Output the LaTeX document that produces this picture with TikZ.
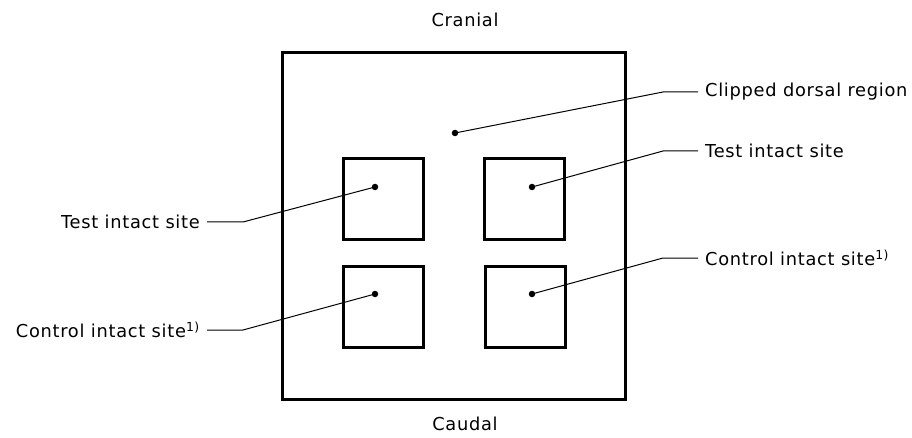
\documentclass[tikz,border=0pt]{standalone}
\usepackage{fontspec}
\setmainfont[LetterSpace=4]{DejaVu Sans}
\begin{document}
\begin{tikzpicture}[x=1pt,y=-1pt,
  frame/.style={draw=black, line width=3pt, inner sep=0pt, fill=none},
  site/.style={frame, minimum width=80pt, minimum height=81pt},
  lbl/.style={font=\fontsize{17.8}{21}\selectfont, inner sep=7pt, text=black},
  leader/.style={line width=1pt},
  dotn/.style={circle, fill=black, inner sep=0pt, minimum size=6.5pt}]
\useasboundingbox (0,0) rectangle (912,438);
\node[frame, minimum width=343pt, minimum height=346pt] (outer) at (453.5,226) {};
\node[site] (tl) at (383,199.5) {};
\node[site] (tr) at (524.5,199.5) {};
\node[site] (bl) at (383,306.5) {};
\node[site] (br) at (525,306.5) {};
\node[dotn] (dc) at (455,133) {};
\node[dotn] (dtl) at (375,187) {};
\node[dotn] (dtr) at (532,187) {};
\node[dotn] (dbl) at (375,294) {};
\node[dotn] (dbr) at (532,294) {};
\node[lbl] (cran) at (465,20) {Cranial};
\node[lbl] (caud) at (465,424) {Caudal};
\node[lbl, anchor=west] (lclip) at (698,92) {Clipped dorsal region};
\node[lbl, anchor=west] (ltr) at (698,151) {Test intact site};
\node[lbl, anchor=west] (lbr) at (698,258) {Control intact site\textsuperscript{1)}};
\node[lbl, anchor=east] (ltl) at (207,222) {Test intact site};
\node[lbl, anchor=east] (lbl) at (207,330) {Control intact site\textsuperscript{1)}};
\coordinate (bclip) at (663,92);
\coordinate (btr) at (663,151);
\coordinate (bbr) at (663,258);
\coordinate (btl) at (243,222);
\coordinate (bbl) at (243,330);
\draw[leader] (dc.center) -- (bclip) -- (lclip.west);
\draw[leader] (dtr.center) -- (btr) -- (ltr.west);
\draw[leader] (dbr.center) -- (bbr) -- (lbr.west);
\draw[leader] (dtl.center) -- (btl) -- (ltl.east);
\draw[leader] (dbl.center) -- (bbl) -- (lbl.east);
\end{tikzpicture}
\end{document}
